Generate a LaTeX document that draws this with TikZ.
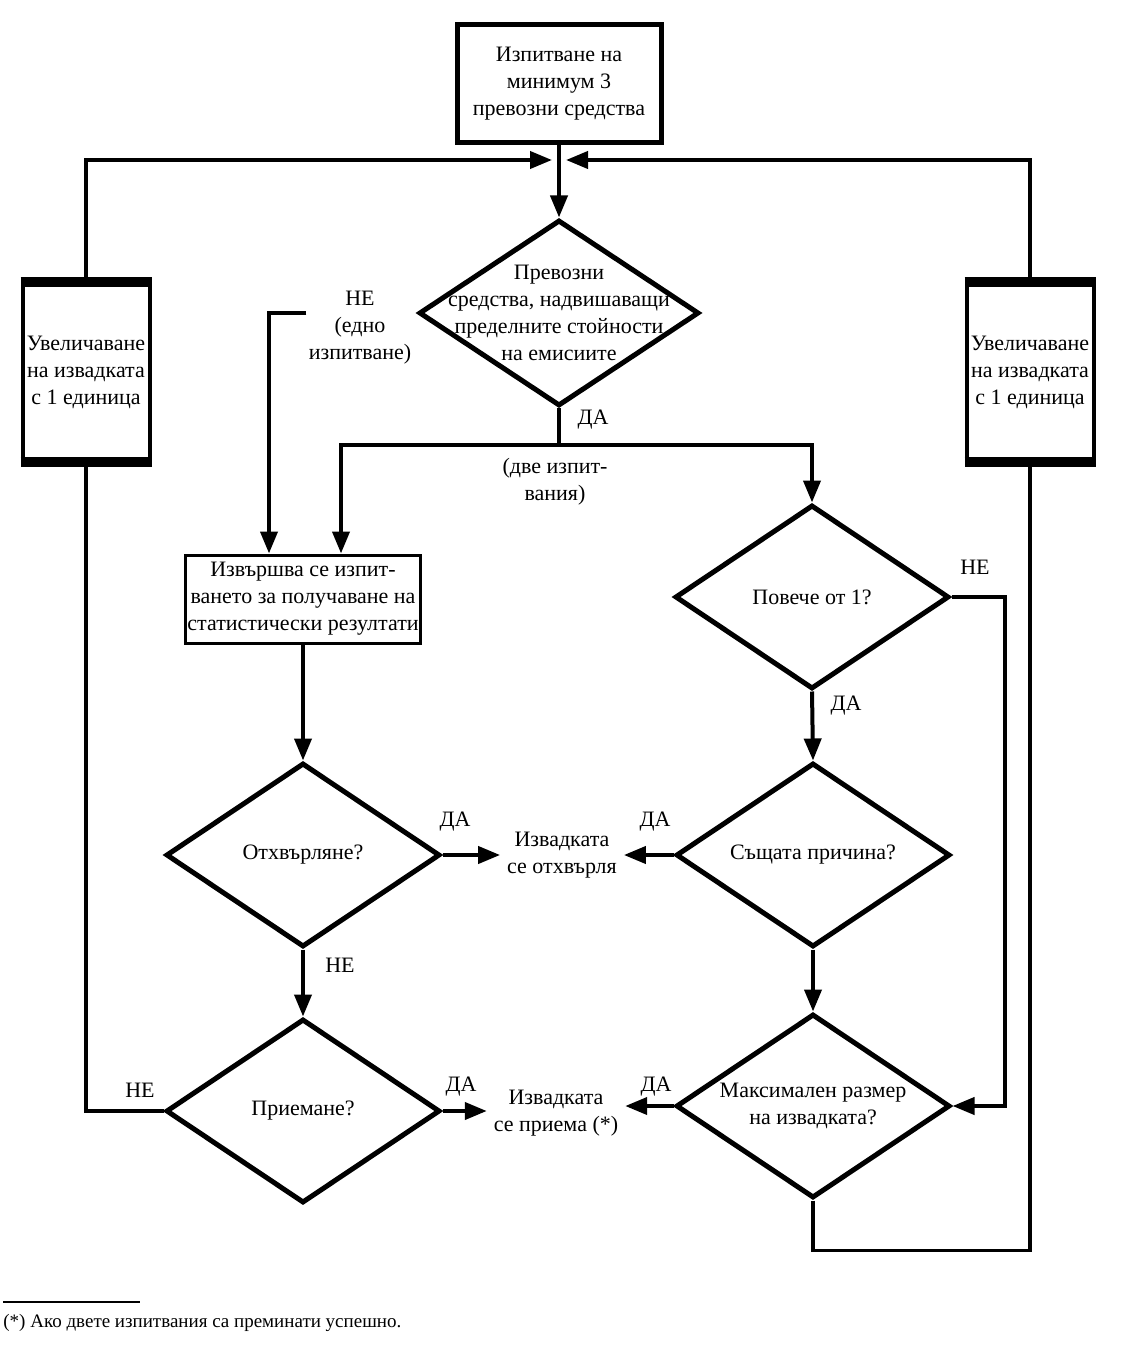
\documentclass[tikz,border=0pt]{standalone}
\usepackage{fontspec}
\setmainfont{Liberation Serif}
\usetikzlibrary{positioning,shapes.geometric,arrows.meta}

\begin{document}
\begin{tikzpicture}[
    x=0.5pt, y=-0.5pt,
    txt/.style={font=\fontsize{11}{13.5}\selectfont, align=center},
    lbl/.style={font=\fontsize{11}{13.5}\selectfont, align=center, inner sep=1pt},
    topbox/.style={draw, line width=2.5pt, minimum width=102pt, minimum height=59pt, txt},
    incbox/.style={draw, line width=2pt, minimum width=63.5pt, minimum height=87.5pt, inner sep=1pt, txt},
    runbox/.style={draw, line width=1.5pt, minimum width=116pt, minimum height=44pt, inner sep=1pt, txt},
    decis/.style={diamond, draw, line width=2.5pt, minimum width=137pt, minimum height=92pt, inner sep=0pt},
    conn/.style={line width=2pt},
    arr/.style={conn, -{Triangle[length=11pt,width=8.5pt]}},
]
\useasboundingbox (0,0) rectangle (1123,1347);

\node[topbox] (start) at (559,84) {Изпитване на\\минимум 3\\превозни средства};
\node[decis, minimum width=140pt, minimum height=93pt,
      label={[txt]center:{Превозни\\средства, надвишаващи\\пределните стойности\\на емисиите}}] (emis) at (559,313) {};

\node[incbox] (linc) at (86,372) {Увеличаване\\на извадката\\с 1 единица};
\node[incbox] (rinc) at (1030,372) {Увеличаване\\на извадката\\с 1 единица};
\draw[line width=5pt] (linc.north west) -- (linc.north east);
\draw[line width=5pt] (linc.south west) -- (linc.south east);
\draw[line width=5pt] (rinc.north west) -- (rinc.north east);
\draw[line width=5pt] (rinc.south west) -- (rinc.south east);

\node[runbox] (test) at (303,599) {Извършва се изпит-\\ването за получаване на\\статистически резултати};

\node[decis, label={[txt]center:Отхвърляне?}] (rej) at (303,855) {};
\node[decis, label={[txt]center:Приемане?}] (acc) at (303,1111) {};
\node[decis, label={[txt]center:Повече от 1?}] (more) at (812,597) {};
\node[decis, label={[txt]center:Същата причина?}] (same) at (813,855) {};
\node[decis, label={[txt]center:{Максимален размер\\на извадката?}}] (maxs) at (813,1106) {};

\node[txt] (rjt) at (562,855) {Извадката\\се отхвърля};
\node[txt] (okd) at (556,1113) {Извадката\\се приема (*)};

\node[lbl] (neone) at (360,328) {НЕ\\(едно\\изпитване)};
\node[lbl] (twolbl) at (555,482) {(две изпит-\\вания)};
\node[lbl] at (593,420) {ДА};
\node[lbl] at (846,706) {ДА};
\node[lbl] at (455,822) {ДА};
\node[lbl] at (655,822) {ДА};
\node[lbl] at (461,1087) {ДА};
\node[lbl] at (656,1087) {ДА};
\node[lbl] at (340,965) {НЕ};
\node[lbl] at (975,567) {НЕ};
\node[lbl] at (140,1090) {НЕ};

\coordinate (jn) at (559,160);
\coordinate (split) at (559,445);

\draw[arr] (start.south) -- (emis.north);
\draw[arr, shorten >=3.5pt] (linc.north) |- (jn);
\draw[arr, shorten >=3.5pt] (rinc.north) |- (jn);

\draw[arr] (neone.west |- emis.west) -| ([xshift=-17pt]test.north);
\draw[conn] (emis.south) -- (split);
\draw[arr] (split) -| ([xshift=19pt]test.north);
\draw[arr] (split) -| (more.north);

\draw[arr] (test.south) -- (rej.north);
\draw[arr] (rej.east) -- (rej.east -| rjt.west);
\draw[arr] (rej.south) -- (acc.north);
\draw[arr] (acc.east) -- (acc.east -| okd.west);
\draw[conn] (acc.west) -| (linc.south);

\draw[arr] (more.south) -- (same.north);
\draw[arr] (more.east) -- ++(53,0) |- (maxs.east);
\draw[arr] (same.west) -- (same.west -| rjt.east);
\draw[arr] (same.south) -- (maxs.north);
\draw[arr] (maxs.west) -- (maxs.west -| okd.east);
\draw[line width=1.7pt] (maxs.south) -- ++(0,50) -| (rinc.south);

\draw[line width=0.8pt] (3,1302) -- (140,1302);
\node[anchor=west, inner sep=0pt, font=\fontsize{9.5}{11}\selectfont] (fnote) at (3,1323) {(*) Ако двете изпитвания са преминати успешно.};
\end{tikzpicture}
\end{document}
